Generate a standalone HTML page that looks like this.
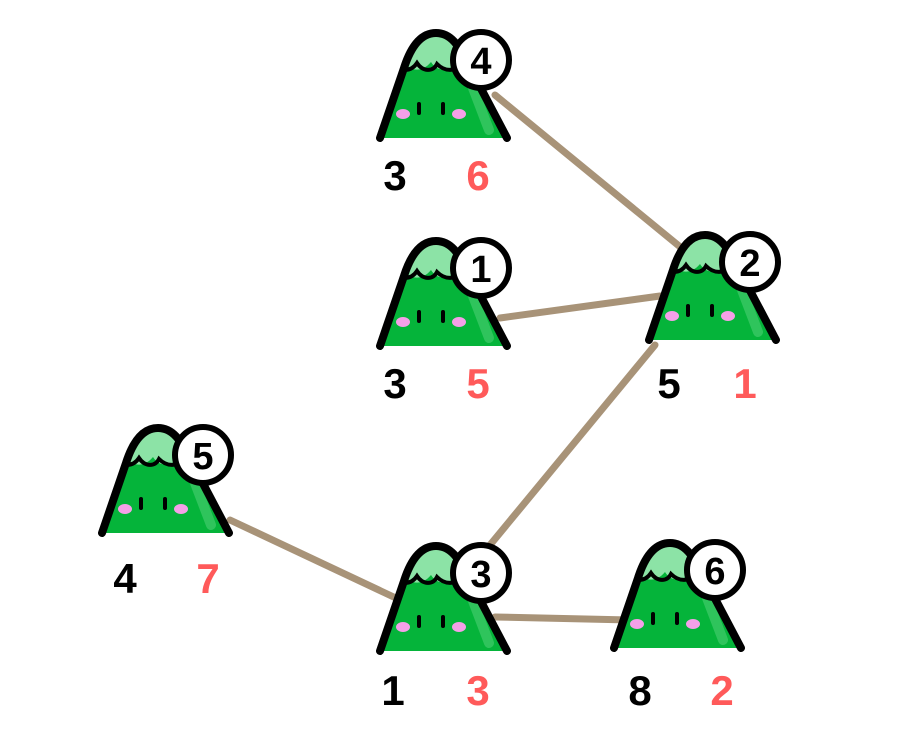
<!DOCTYPE html>
<html><head><meta charset="utf-8"><style>
html,body{margin:0;padding:0;background:#fff;}
svg text{font-family:"Liberation Sans","DejaVu Sans",sans-serif;font-weight:bold;font-size:42px;text-anchor:middle;}
</style></head><body>
<svg width="898" height="744" viewBox="0 0 898 744" xmlns="http://www.w3.org/2000/svg">
<defs>
<clipPath id="c"><path d="M-101,78 L-77,8 C-70,-14 -60,-27 -45,-27 C-30,-27 -22,-14 -14,2 L26,78 Z"/></clipPath>
<g id="m">
<path d="M-101,78 L-77,8 C-70,-14 -60,-27 -45,-27 C-30,-27 -22,-14 -14,2 L26,78 Z" fill="#05b43a"/>
<g clip-path="url(#c)">
<path d="M-110,3 C-100,3 -80,-40 -46,-40 C-10,-40 10,3 20,3 C-6,12 -16,12 -24,2 C-32,12 -44,12 -50,2 C-58,12 -70,12 -76,3 Z" fill="#8ce3a6"/>
<path d="M-90,4 C-80,12 -70,12 -64,3 C-58,12 -48,12 -44,4 C-36,12 -26,12 -16,3" fill="none" stroke="#000" stroke-width="4" stroke-linecap="round"/>
<path d="M-8,28 L8,70" stroke="#2fc45c" stroke-width="10" stroke-linecap="round"/>
</g>
<path d="M-101,78 L-77,8 C-70,-14 -60,-27 -45,-27 C-30,-27 -22,-14 -14,2 L26,78" fill="none" stroke="#000" stroke-width="8" stroke-linecap="round" stroke-linejoin="round"/>
<line x1="-62" y1="44" x2="-62" y2="53" stroke="#000" stroke-width="4" stroke-linecap="round"/>
<line x1="-38" y1="44" x2="-38" y2="53" stroke="#000" stroke-width="4" stroke-linecap="round"/>
<ellipse cx="-78" cy="54" rx="7" ry="5" fill="#f5a0e8"/>
<ellipse cx="-22" cy="54" rx="7" ry="5" fill="#f5a0e8"/>
<circle cx="0" cy="0" r="28" fill="#fff" stroke="#000" stroke-width="6"/>
</g>
</defs>
<g stroke="#a89378" stroke-width="7" stroke-linecap="round">
<line x1="495" y1="95" x2="690" y2="255"/>
<line x1="500" y1="318" x2="660" y2="296"/>
<line x1="655" y1="345" x2="490" y2="545"/>
<line x1="230" y1="520" x2="400" y2="600"/>
<line x1="495" y1="617" x2="630" y2="620"/>
</g>
<use href="#m" x="481" y="60"/>
<use href="#m" x="481" y="268"/>
<use href="#m" x="750" y="262"/>
<use href="#m" x="203" y="455"/>
<use href="#m" x="481" y="573"/>
<use href="#m" x="715" y="570"/>
<g>
<text x="481" y="74" style="font-size:38px">4</text>
<text x="481" y="282" style="font-size:38px">1</text>
<text x="750" y="276" style="font-size:38px">2</text>
<text x="203" y="469" style="font-size:38px">5</text>
<text x="481" y="587" style="font-size:38px">3</text>
<text x="715" y="584" style="font-size:38px">6</text>
</g>
<g fill="#000">
<text x="395" y="190">3</text>
<text x="395" y="398">3</text>
<text x="669" y="398">5</text>
<text x="125" y="593">4</text>
<text x="393" y="705">1</text>
<text x="640" y="705">8</text>
</g>
<g fill="#ff5a5a">
<text x="478" y="190">6</text>
<text x="478" y="398">5</text>
<text x="745" y="398">1</text>
<text x="208" y="593">7</text>
<text x="478" y="705">3</text>
<text x="722" y="705">2</text>
</g>
</svg>
</body></html>
